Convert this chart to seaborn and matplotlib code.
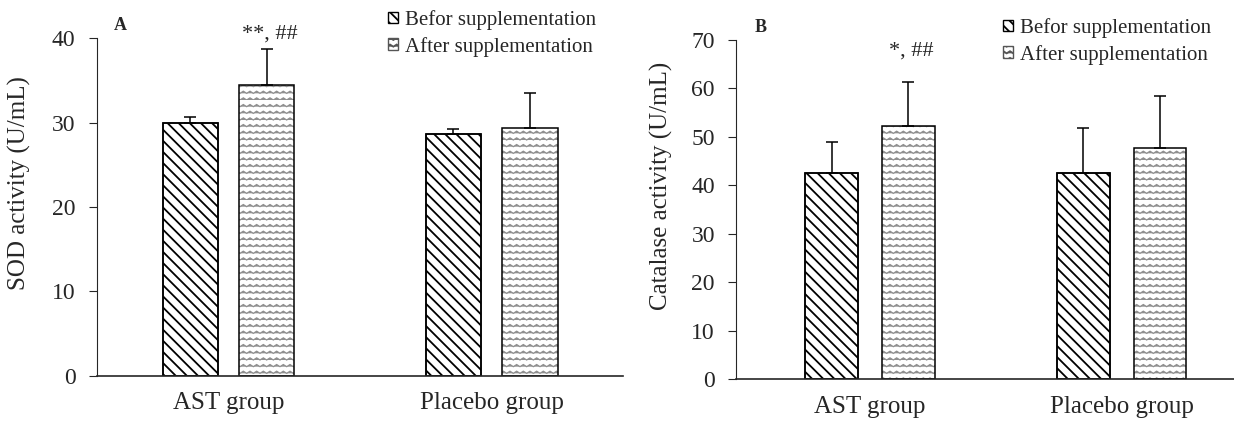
import warnings
import numpy as np
import pandas as pd
import seaborn as sns
import matplotlib.pyplot as plt
import matplotlib.hatch as mhatch
from matplotlib.path import Path
from matplotlib.patches import Patch

warnings.filterwarnings("ignore")

groups = ["AST group", "Placebo group"]
times = ["Befor supplementation", "After supplementation"]

# panel A - SOD
sod_before = [30.0, 28.6]
sod_after = [34.5, 29.4]
sod_before_sd = [0.7, 0.65]
sod_after_sd = [4.2, 4.15]
sod_marks = ["**, ##", ""]

# panel B - catalase
cat_before = [42.5, 42.6]
cat_after = [52.2, 47.8]
cat_before_sd = [6.5, 9.3]
cat_after_sd = [9.2, 10.7]
cat_marks = ["*, ##", ""]


class ZigZagHatch(mhatch.HatchPatternBase):
    # wavy rows, triggered by 'z' in the hatch string
    def __init__(self, hatch, density):
        self.num_rows = int(hatch.count('z') * density * 2.5)
        self.teeth = 15
        self.n = 2 * self.teeth + 1
        self.num_vertices = self.num_rows * self.n

    def set_vertices_and_codes(self, vertices, codes):
        xs = np.linspace(0, 1, self.n)
        step = 1.0 / self.num_rows
        amp = np.tile([0.0, 1.0], self.teeth + 1)[:self.n] * step * 0.32
        for i in range(self.num_rows):
            s = slice(i * self.n, (i + 1) * self.n)
            vertices[s, 0] = xs
            vertices[s, 1] = i * step + amp
            codes[s] = Path.LINETO
            codes[i * self.n] = Path.MOVETO


mhatch._hatch_types.append(ZigZagHatch)

sns.set_style("ticks")
plt.rcParams['font.family'] = ['Liberation Serif', 'DejaVu Serif']
plt.rcParams['hatch.linewidth'] = 1.3

STRIPE = '\\\\\\'
WAVE = 'z'
WAVE_COLOR = '#8f8f8f'


def make_df(before, after):
    rows = []
    for g, v in zip(groups, before):
        rows.append({"group": g, "time": times[0], "value": v})
    for g, v in zip(groups, after):
        rows.append({"group": g, "time": times[1], "value": v})
    return pd.DataFrame(rows)


def panel(ax, before, after, before_sd, after_sd, marks, ylim, ylabel,
          width, gap, xlim, mark_off, label_xy):
    df = make_df(before, after)
    sns.barplot(data=df, x="group", y="value", hue="time", hue_order=times,
                palette=["white", "white"], width=width, gap=gap,
                errorbar=None, legend=False, ax=ax, linewidth=0,
                saturation=1)
    bars = list(ax.patches)
    for p in bars[:2]:
        p.set_hatch(STRIPE)
        p.set_edgecolor("black")
        p.set_linewidth(1.1)
    for p in bars[2:4]:
        p.set_hatch(WAVE)
        p.set_edgecolor(WAVE_COLOR)
        p.set_linewidth(0)
        if hasattr(p, "set_hatch_linewidth"):
            p.set_hatch_linewidth(0.9)
    # outline for the wavy bars
    sns.barplot(data=df, x="group", y="value", hue="time", hue_order=times,
                palette=["black", "black"], width=width, gap=gap, fill=False,
                errorbar=None, legend=False, ax=ax, linewidth=1.1)

    xs = [p.get_x() + p.get_width() / 2 for p in bars[:4]]
    hs = [p.get_height() for p in bars[:4]]
    sd = list(before_sd) + list(after_sd)
    ax.errorbar(xs, hs, yerr=[np.zeros(4), sd], fmt="none", ecolor="black",
                elinewidth=1.1, capsize=4, capthick=1.1)
    for i, m in enumerate(marks):
        if m:
            ax.annotate(m, (xs[2 + i], hs[2 + i] + sd[2 + i]),
                        xytext=(2, mark_off), textcoords="offset points",
                        ha="center", va="center", fontsize=16)

    ax.set_ylim(*ylim)
    ax.set_yticks(np.arange(ylim[0], ylim[1] + 1, 10))
    ax.set_xlim(*xlim)
    ax.set_xlabel("")
    ax.set_ylabel(ylabel, fontsize=18)
    ax.yaxis.set_label_coords(*label_xy)
    ax.tick_params(axis="x", length=0, pad=12, labelsize=18)
    ax.tick_params(axis="y", length=5.5, width=0.8, pad=10, labelsize=17,
                   direction="out")
    sns.despine(ax=ax)
    ax.spines["bottom"].set_linewidth(1.2)
    ax.spines["left"].set_linewidth(0.8)
    ax.set_facecolor("white")


fig = plt.figure(figsize=(12.34, 4.21), dpi=100)
axA = fig.add_axes([0.0786, 0.1076, 0.4263, 0.8014])
axB = fig.add_axes([0.5968, 0.0998, 0.4032, 0.8052])

panel(axA, sod_before, sod_after, sod_before_sd, sod_after_sd, sod_marks,
      (0, 40), "SOD activity (U/mL)", 0.58, 0.27, (-0.5, 1.5), 11,
      (-0.125, 0.57))
panel(axB, cat_before, cat_after, cat_before_sd, cat_after_sd, cat_marks,
      (0, 70), "Catalase activity (U/mL)", 0.61, 0.32, (-0.53, 1.445), 22,
      (-0.128, 0.57))

fig.text(120 / 1234, 1 - 25 / 421, "A", fontsize=13, fontweight="bold",
         ha="center", va="center")
fig.text(761 / 1234, 1 - 28 / 421, "B", fontsize=13, fontweight="bold",
         ha="center", va="center")

handles = [Patch(facecolor="white", edgecolor="black", hatch=STRIPE, lw=1),
           Patch(facecolor="white", edgecolor="#555555", hatch=WAVE, lw=1)]
for anchor in [(388 / 1234, 1 - 10 / 421), (1003 / 1234, 1 - 18 / 421)]:
    fig.legend(handles, times, loc="upper left", bbox_to_anchor=anchor,
               frameon=False, fontsize=15, handlelength=0.5,
               handleheight=0.5, handletextpad=0.3, labelspacing=0.33,
               borderpad=0, borderaxespad=0)

fig.savefig("out.png", dpi=100, facecolor="white")
